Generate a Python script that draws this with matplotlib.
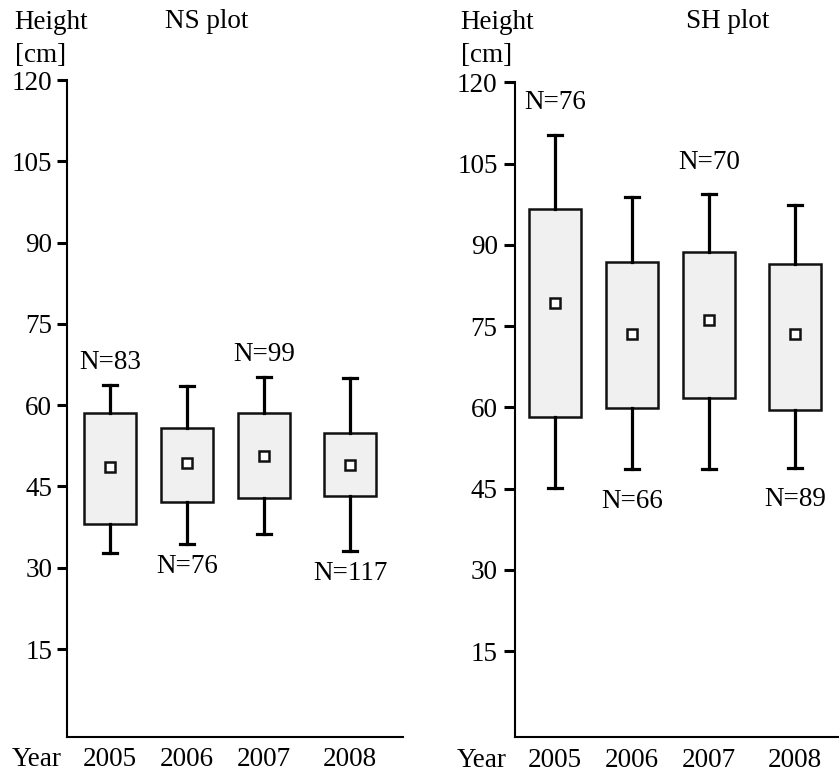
import matplotlib
matplotlib.use("Agg")
import matplotlib.pyplot as plt
from matplotlib.transforms import offset_copy

plt.rcParams['font.family'] = ['Liberation Serif', 'DejaVu Serif']

years = ['2005', '2006', '2007', '2008']
yticks = [15, 30, 45, 60, 75, 90, 105, 120]

# NS plot
ns_q1 = [38.1, 42.2, 42.9, 43.2]
ns_q3 = [58.6, 55.7, 58.5, 54.9]
ns_lo = [32.7, 34.4, 36.3, 33.0]
ns_hi = [63.8, 63.5, 65.2, 65.1]
ns_mean = [48.5, 49.4, 50.7, 49.0]
ns_n = [83, 76, 99, 117]

# SH plot
sh_q1 = [58.3, 59.9, 61.7, 59.6]
sh_q3 = [96.7, 86.9, 88.7, 86.5]
sh_lo = [45.2, 48.6, 48.7, 48.9]
sh_hi = [110.3, 98.8, 99.3, 97.4]
sh_mean = [79.3, 73.6, 76.1, 73.5]
sh_n = [76, 66, 70, 89]

W, H = 839, 775
fig = plt.figure(figsize=(W / 100, H / 100), dpi=100)

pos = [0, 1, 2, 3.12]
fs = 19.5


def panel(rect, xlim, ylim, q1, q3, lo, hi, mean, n, n_off, tick_len, tick_pad):
    ax = fig.add_axes(rect)
    stats = []
    for i in range(len(years)):
        stats.append(dict(q1=q1[i], q3=q3[i], whislo=lo[i], whishi=hi[i],
                          med=mean[i], mean=mean[i], fliers=[]))
    ax.bxp(stats, positions=pos, widths=0.675, capwidths=0.18,
           showmeans=True, patch_artist=True,
           boxprops=dict(facecolor='#f0f0f0', edgecolor='#111111', linewidth=1.8),
           whiskerprops=dict(color='black', linewidth=2.3),
           capprops=dict(color='black', linewidth=2.3),
           medianprops=dict(linewidth=0),
           meanprops=dict(marker='s', markersize=7, markerfacecolor='white',
                          markeredgecolor='#111111', markeredgewidth=1.8))
    ax.set_xlim(*xlim)
    ax.set_ylim(*ylim)
    for s in ['top', 'right']:
        ax.spines[s].set_visible(False)
    for s in ['left', 'bottom']:
        ax.spines[s].set_linewidth(1.5)
    ax.set_yticks(yticks)
    ax.set_yticklabels([str(t) for t in yticks], fontsize=fs)
    ax.tick_params(axis='y', length=tick_len, width=2.2, pad=tick_pad)
    ax.set_xticks(pos)
    ax.set_xticklabels(years, fontsize=fs)
    ax.tick_params(axis='x', length=0, pad=7.5)
    tr = offset_copy(ax.get_xaxis_transform(), fig=fig, y=-7.5, units='points')
    ax.text(-0.95, 0, 'Year', transform=tr, ha='center', va='top', fontsize=fs)
    for i in range(len(years)):
        if i % 2 == 0:
            ax.annotate('N=%d' % n[i], (pos[i], hi[i]), xytext=(0, n_off),
                        textcoords='offset points', ha='center', va='center',
                        fontsize=fs)
        else:
            ax.annotate('N=%d' % n[i], (pos[i], lo[i]), xytext=(0, -n_off),
                        textcoords='offset points', ha='center', va='center',
                        fontsize=fs)
    return ax


# left panel: axes box 67..403 px, 80..737 px
panel([67 / W, 1 - 737 / H, 336 / W, 657 / H], (-0.558, 3.805), (-1.23, 120),
      ns_q1, ns_q3, ns_lo, ns_hi, ns_mean, ns_n, 16, 7.2, 3.4)
# right panel: axes box 515..839 px, 82..737 px
panel([515 / W, 1 - 737.3 / H, 324 / W, 655 / H], (-0.519, 3.69), (-0.88, 120),
      sh_q1, sh_q3, sh_lo, sh_hi, sh_mean, sh_n, 23, 7.9, 4.6)

for x0, title, tx in [(14.7, 'NS plot', 206.7), (460.7, 'SH plot', 727.5)]:
    fig.text(x0 / W, 1 - 29.3 / H, 'Height', fontsize=fs, va='baseline', ha='left')
    fig.text(x0 / W, 1 - 61.7 / H, '[cm]', fontsize=fs, va='baseline', ha='left')
    fig.text(tx / W, 1 - 28.5 / H, title, fontsize=fs, va='baseline', ha='center')

fig.savefig('out.png', dpi=100)
plt.close(fig)
